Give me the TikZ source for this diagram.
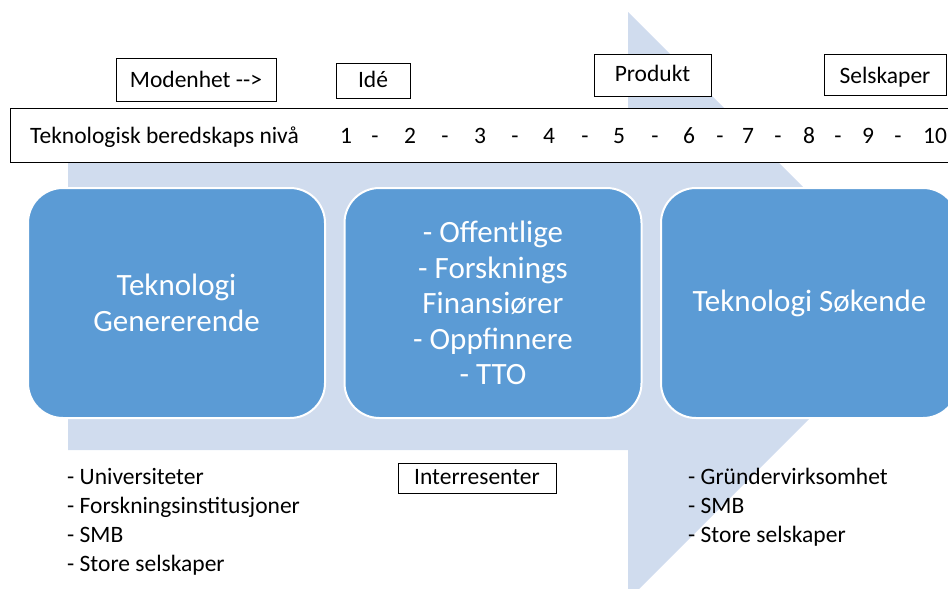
\documentclass[tikz,border=0pt]{standalone}
\usepackage{fontspec}
\setmainfont{Carlito}
\usepackage{xcolor}
\usetikzlibrary{calc}
\definecolor{pilfarge}{HTML}{D0DCEE}
\definecolor{boksfarge}{HTML}{5B9BD5}

\begin{document}
\begin{tikzpicture}[x=1pt,y=-1pt,
  blokk/.style={fill=boksfarge,draw=white,line width=2pt,rounded corners=35pt,
    minimum width=297pt,minimum height=230pt,inner sep=0pt,text=white,align=center,
    font=\fontsize{31}{35.5}\selectfont},
  merke/.style={draw,line width=1pt,fill=white,inner sep=0pt,font=\fontsize{23.5}{27}\selectfont},
  liste/.style={anchor=west,align=left,inner sep=0pt,font=\fontsize{23.5}{29}\selectfont},
  tall/.style={anchor=base,inner sep=0pt,font=\fontsize{23.5}{27}\selectfont}]
\useasboundingbox (0,0) rectangle (948,589);

% big arrow in the background
\fill[pilfarge] (68,162) -- (628,162) -- (628,12) -- (922,306) -- (628,600)
  -- (628,450) -- (68,450) -- cycle;

% maturity labels
\node[merke,minimum width=160pt,minimum height=43pt] (moden) at (196,79.5) {Modenhet -{}-{}>};
\node[merke,minimum width=74pt,minimum height=35pt] (ide) at (373,80.5) {\raisebox{2pt}{Idé}};
\node[merke,minimum width=117pt,minimum height=42pt] (produkt) at (652.5,75) {\raisebox{3pt}{Produkt}};
\node[merke,minimum width=122pt,minimum height=41pt] (selskap) at (885,74.5) {\raisebox{-8.5pt}[0pt][0pt]{Selskaper}};

% readiness level scale
\node[draw,line width=1.2pt,fill=white,minimum width=950pt,minimum height=54pt,
  anchor=north west,inner sep=0pt] (trl) at (10,108) {};
\node[tall,anchor=base west] (trltekst) at (30,143) {Teknologisk beredskaps nivå};
\foreach \n/\px in {1/346,2/410,3/480,4/549,5/619,6/689,7/748,8/809,9/868,10/935}
  \node[tall] (niva\n) at (\px,143) {\n};
\foreach \px in {375,445,515,585,655,720,778,838,898}
  \node[tall] at (\px,143) {-};

% the three groups
\node[blokk] (gen) at (176.5,303) {Teknologi\\Genererende};
\node[blokk] (fin) at (493,303) {- Offentlige\\- Forsknings\\Finansiører\\- Oppfinnere\\- TTO};
\node[blokk] (sok) at (809.5,303) {Teknologi Søkende};

% who belongs where
\node[liste] (venstre) at (67,521.5) {- Universiteter\\- Forskningsinstitusjoner\\- SMB\\- Store selskaper};
\node[merke,minimum width=158pt,minimum height=30pt] (interessent) at (477,478) {\raisebox{2pt}{Interresenter}};
\node[liste] (hoyre) at (688,507) {- Gründervirksomhet\\- SMB\\- Store selskaper};
\end{tikzpicture}
\end{document}
